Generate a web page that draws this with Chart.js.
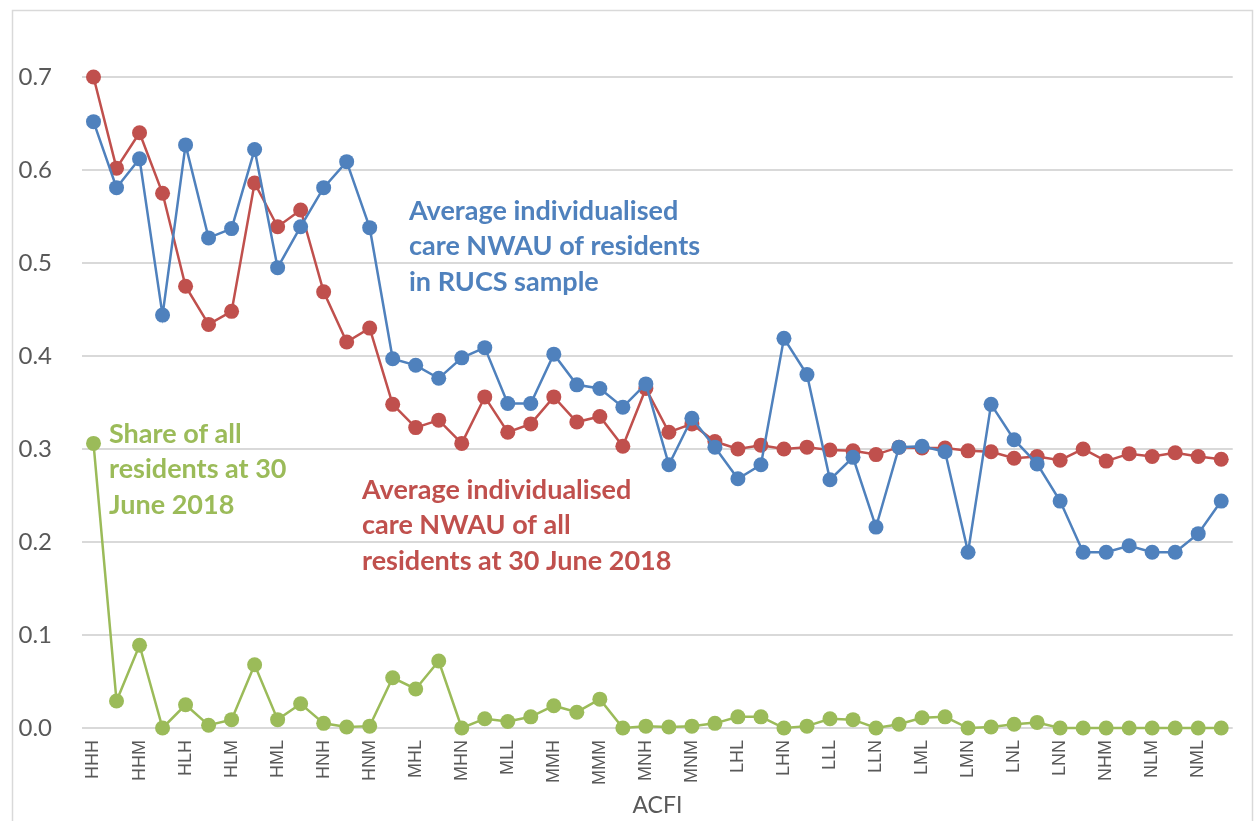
<!DOCTYPE html>
<html>
<head>
<meta charset="utf-8">
<script src="https://cdn.jsdelivr.net/npm/chart.js@4/dist/chart.umd.min.js"></script>
<style>
  html, body { margin: 0; padding: 0; background: #fff; }
  #wrap { width: 1255px; height: 821px; position: relative; }
</style>
</head>
<body>
<div id="wrap"><canvas id="chart" width="1255" height="821"></canvas></div>
<script>
// ACFI categories (only every second one is labelled on the axis)
const categories = [
  "HHH","HHL","HHM","HHN","HLH","HLL","HLM","HMH","HML","HMM",
  "HNH","HNL","HNM","MHH","MHL","MHM","MHN","MLH","MLL","MLM",
  "MMH","MML","MMM","MMN","MNH","MNL","MNM","LHH","LHL","LHM",
  "LHN","LLH","LLL","LLM","LLN","LMH","LML","LMM","LMN","LNH",
  "LNL","LNM","LNN","NHH","NHM","NLH","NLM","NMH","NML","NMN"
];

// Average individualised care NWAU of residents in RUCS sample
const rucsNwau = [
  0.652,0.581,0.612,0.444,0.627,0.527,0.537,0.622,0.495,0.539,
  0.581,0.609,0.538,0.397,0.390,0.376,0.398,0.409,0.349,0.349,
  0.402,0.369,0.365,0.345,0.370,0.283,0.333,0.302,0.268,0.283,
  0.419,0.380,0.267,0.291,0.216,0.302,0.303,0.297,0.189,0.348,
  0.310,0.284,0.244,0.189,0.189,0.196,0.189,0.189,0.209,0.244
];

// Average individualised care NWAU of all residents at 30 June 2018
const allNwau = [
  0.700,0.602,0.640,0.575,0.475,0.434,0.448,0.586,0.539,0.557,
  0.469,0.415,0.430,0.348,0.323,0.331,0.306,0.356,0.318,0.327,
  0.356,0.329,0.335,0.303,0.365,0.318,0.327,0.308,0.300,0.304,
  0.300,0.302,0.299,0.298,0.294,0.302,0.301,0.301,0.298,0.297,
  0.290,0.292,0.288,0.300,0.287,0.295,0.292,0.296,0.292,0.289
];

// Share of all residents at 30 June 2018
const shareResidents = [
  0.306,0.029,0.089,0.000,0.025,0.003,0.009,0.068,0.009,0.026,
  0.005,0.001,0.002,0.054,0.042,0.072,0.000,0.010,0.007,0.012,
  0.024,0.017,0.031,0.000,0.002,0.001,0.002,0.005,0.012,0.012,
  0.000,0.002,0.010,0.009,0.000,0.004,0.011,0.012,0.000,0.001,
  0.004,0.006,0.000,0.000,0.000,0.000,0.000,0.000,0.000,0.000
];

const yTicks = [0, 0.1, 0.2, 0.3, 0.4, 0.5, 0.6, 0.7];

const BLUE = "#4F81BD", RED = "#C0504D", GREEN = "#9BBB59";
const GREY_TEXT = "#595959", GRID = "#d9d9d9";

const notes = [
  { color: BLUE,  x: 409, y: 211, lines: ["Average individualised", "care NWAU of residents", "in RUCS sample"] },
  { color: RED,   x: 362, y: 490, lines: ["Average individualised", "care NWAU of all", "residents at 30 June 2018"] },
  { color: GREEN, x: 109, y: 434, lines: ["Share of all", "residents at 30", "June 2018"] }
];

function series(label, data, color){
  return {
    label, data,
    borderColor: color,
    backgroundColor: color,
    borderWidth: 2.5,
    pointRadius: 7.5,
    pointHoverRadius: 7.5,
    pointBorderWidth: 0,
    tension: 0,
    clip: false
  };
}

const frame = {
  id: "frame",
  beforeDraw(chart){
    const c = chart.ctx;
    c.save();
    c.strokeStyle = GRID;
    c.lineWidth = 1.5;
    c.strokeRect(12.5, 10.5, 1240, 830);
    c.restore();
  }
};

const labels = {
  id: "labels",
  afterDraw(chart){
    const c = chart.ctx;
    c.save();
    c.font = "bold 27px Lato";
    c.textBaseline = "middle";
    c.textAlign = "left";
    notes.forEach(n => {
      c.fillStyle = n.color;
      n.lines.forEach((t, i) => c.fillText(t, n.x, n.y + i * 35.5));
    });
    c.restore();
  }
};

new Chart(document.getElementById("chart"), {
  type: "line",
  data: {
    labels: categories,
    datasets: [
      series("Average individualised care NWAU of residents in RUCS sample", rucsNwau, BLUE),
      series("Average individualised care NWAU of all residents at 30 June 2018", allNwau, RED),
      series("Share of all residents at 30 June 2018", shareResidents, GREEN)
    ]
  },
  options: {
    responsive: false,
    animation: false,
    layout: { padding: { left: 12, top: 77, right: 17, bottom: 0 } },
    plugins: { legend: { display: false }, tooltip: { enabled: false } },
    scales: {
      x: {
        offset: true,
        grid: { display: false, drawTicks: false },
        border: { display: false },
        ticks: {
          autoSkip: false,
          maxRotation: 90,
          minRotation: 90,
          padding: 12,
          color: GREY_TEXT,
          font: { family: "Liberation Sans", size: 18 },
          callback: (v, i) => i % 2 === 0 ? categories[i] : ""
        },
        title: {
          display: true,
          text: "ACFI",
          color: GREY_TEXT,
          font: { family: "Lato", size: 23 },
          padding: { top: 0, bottom: 2 }
        },
        afterFit: s => { s.height = 93; }
      },
      y: {
        min: 0,
        max: 0.7,
        grid: { color: GRID, lineWidth: 2, drawTicks: false },
        border: { display: false },
        afterBuildTicks: s => { s.ticks = yTicks.map(v => ({ value: v })); },
        ticks: {
          padding: 30,
          color: GREY_TEXT,
          font: { family: "Lato", size: 24 },
          callback: v => Number(v).toFixed(1)
        },
        afterFit: s => { s.width = 70; }
      }
    }
  },
  plugins: [frame, labels]
});
</script>
</body>
</html>
